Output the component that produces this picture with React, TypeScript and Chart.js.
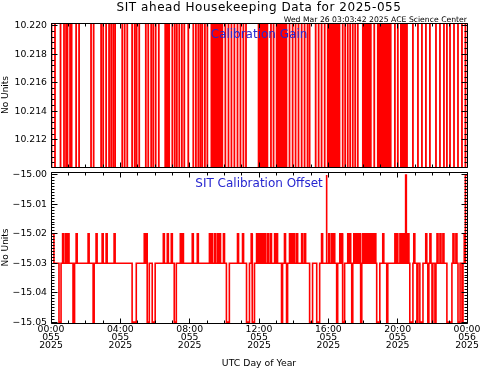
import React, { useEffect, useRef } from "react";
import { Chart, registerables } from "chart.js";

Chart.register(...registerables);

// ---------------- data ----------------
const TITLE = "SIT ahead Housekeeping Data for 2025-055";
const SUBTITLE = "Wed Mar 26 03:03:42 2025 ACE Science Center";
const GAIN_LABEL = "Calibration Gain";
const OFFSET_LABEL = "SIT Calibration Offset";
const Y_LABEL = "No Units";
const X_LABEL = "UTC Day of Year";

const HOUR_TICKS = [0, 4, 8, 12, 16, 20, 24];
const HOUR_TICK_TIME = ["00:00", "04:00", "08:00", "12:00", "16:00", "20:00", "00:00"];
const HOUR_TICK_DOY = ["055", "055", "055", "055", "055", "055", "056"];
const HOUR_TICK_YEAR = ["2025", "2025", "2025", "2025", "2025", "2025", "2025"];

const GAIN_TICKS = [10.212, 10.214, 10.216, 10.218, 10.22];
const GAIN_MIN = 10.2101;
const GAIN_MAX = 10.2202;
const GAIN_HIGH = 10.2206;
const GAIN_LOW = 10.2096;
// hours (UTC) at which the gain switches between its two values
const GAIN_TOGGLES = [
  0.03, 0.23, 0.55, 0.75, 0.87, 0.95, 1.1, 1.19, 1.45, 1.62, 2.31, 2.46, 2.89, 3.01, 3.18,
  3.35, 3.47, 3.59, 3.7, 4.11, 4.25, 4.4, 4.68, 4.83, 4.94, 5.09, 5.47, 5.61, 5.78, 5.9,
  6.04, 6.22, 7.0, 7.14, 7.26, 7.4, 7.55, 7.69, 7.92, 8.21, 8.36, 8.5, 8.62, 8.73, 8.88,
  9.02, 10.06, 10.24, 10.41, 10.58, 10.76, 10.93, 11.1, 11.25, 12.69, 12.84, 13.76, 13.94,
  14.11, 14.28, 14.46, 14.63, 14.8, 14.92, 15.27, 15.44, 15.61, 15.79, 16.83, 16.97, 17.12,
  17.26, 17.41, 17.55, 17.7, 18.65, 19.84, 20.01, 20.88, 21.17, 21.4, 21.63, 21.86, 22.21,
  22.44, 22.67, 22.84, 23.02, 23.25, 23.48, 23.71, 23.91,
];
// spans (hours) of continuous rapid switching
const GAIN_DENSE = [
  [6.53, 6.88], [9.19, 9.95], [11.91, 12.55], [12.95, 13.65], [15.9, 16.71],
  [17.93, 18.51], [18.79, 19.66], [20.13, 20.59],
];

const OFFSET_TICKS = [-15.05, -15.04, -15.03, -15.02, -15.01, -15.0];
const OFFSET_MIN = -15.0503;
const OFFSET_MAX = -14.999;
const OFFSET_BASE = -15.03;
const OFFSET_UP_LEVEL = -15.02;
const OFFSET_DOWN_LEVEL = -15.05;
const OFFSET_PEAK_LEVEL = -15.0;
const OFFSET_UP = [
  [0.0, 0.17], [0.67, 0.73], [0.84, 0.9], [0.98, 1.04], [1.45, 1.51], [2.14, 2.2], [2.6, 2.66],
  [2.95, 3.01], [3.18, 3.24], [3.64, 3.7], [5.38, 5.44], [5.49, 5.55], [6.48, 6.54], [6.71, 6.77],
  [6.94, 7.0], [7.46, 7.52], [7.58, 7.64], [8.15, 8.21], [8.44, 8.5], [9.14, 9.2], [9.25, 9.31],
  [9.43, 9.49], [9.6, 9.66], [9.72, 9.78], [9.95, 10.01], [10.76, 10.82], [11.05, 11.11],
  [11.55, 11.6], [11.86, 11.92], [11.97, 12.03], [12.09, 12.15], [12.2, 12.26], [12.32, 12.38],
  [12.49, 12.55], [12.66, 12.72], [12.9, 12.96], [13.01, 13.07], [13.47, 13.53], [13.76, 13.82],
  [13.88, 13.94], [14.0, 14.06], [14.17, 14.23], [14.46, 14.52], [14.63, 14.69], [15.61, 15.67],
  [16.02, 16.08], [16.19, 16.25], [16.31, 16.37], [16.66, 16.72], [16.77, 16.82], [17.12, 17.18],
  [17.23, 17.29], [17.47, 17.53], [17.58, 17.64], [17.7, 17.76], [17.81, 17.86], [17.99, 18.05],
  [18.1, 18.16], [18.22, 18.28], [18.33, 18.39], [18.45, 18.51], [18.56, 18.62], [18.68, 18.74],
  [19.14, 19.2], [19.84, 19.9], [19.95, 20.01], [20.13, 20.19], [20.24, 20.3], [20.36, 20.42],
  [20.59, 20.65], [20.93, 20.99], [21.62, 21.68], [21.86, 21.92], [22.27, 22.33], [22.44, 22.5],
  [22.61, 22.67], [23.19, 23.25], [23.36, 23.42], [23.84, 23.9],
];
const OFFSET_DOWN = [
  [0.46, 0.58], [1.27, 1.36], [2.43, 2.49], [4.68, 4.92], [5.55, 5.67], [5.84, 6.01],
  [7.11, 7.23], [10.12, 10.29], [11.28, 11.45], [11.62, 11.74], [13.3, 13.36], [13.59, 13.65],
  [14.92, 15.09], [15.33, 15.5], [16.48, 16.54], [16.83, 16.94], [17.35, 17.41], [17.87, 17.93],
  [18.79, 18.97], [19.37, 19.43], [20.7, 20.88], [21.11, 21.17], [21.28, 21.46], [21.74, 21.8],
  [21.98, 22.03], [22.15, 22.21], [22.84, 23.13], [23.48, 23.6], [23.71, 23.77],
];
const OFFSET_PEAK = [[15.87, 15.92], [20.46, 20.5], [23.91, 24.0]];

// ---------------- helpers ----------------
const FONT = '"DejaVu Sans", sans-serif';
const RED = "#ff0000";
const BLUE = "#2626d0";

function gainPoints() {
  const pts: { x: number; y: number }[] = [];
  let v = GAIN_LOW;
  pts.push({ x: 0, y: v });
  for (const t of GAIN_TOGGLES) {
    pts.push({ x: t, y: v });
    v = v === GAIN_LOW ? GAIN_HIGH : GAIN_LOW;
    pts.push({ x: t, y: v });
  }
  pts.push({ x: 24, y: v });
  return pts;
}

function gainDensePoints() {
  const pts: { x: number; y: number | null }[] = [];
  for (const [a, b] of GAIN_DENSE) {
    pts.push({ x: a, y: GAIN_HIGH }, { x: b, y: GAIN_HIGH }, { x: b, y: null });
  }
  return pts;
}

function offsetPoints() {
  const ev: number[][] = [
    ...OFFSET_UP.map(([a, b]) => [a, b, OFFSET_UP_LEVEL]),
    ...OFFSET_DOWN.map(([a, b]) => [a, b, OFFSET_DOWN_LEVEL]),
    ...OFFSET_PEAK.map(([a, b]) => [a, b, OFFSET_PEAK_LEVEL]),
  ].sort((p, q) => p[0] - q[0]);
  const pts: { x: number; y: number }[] = [];
  if (ev.length === 0 || ev[0][0] > 0) pts.push({ x: 0, y: OFFSET_BASE });
  for (const [a, b, lv] of ev) {
    if (a > 0) pts.push({ x: a, y: OFFSET_BASE });
    pts.push({ x: a, y: lv }, { x: b, y: lv });
    if (b < 24) pts.push({ x: b, y: OFFSET_BASE });
  }
  const last = ev[ev.length - 1];
  if (!last || last[1] < 24) pts.push({ x: 24, y: OFFSET_BASE });
  return pts;
}

const framePlugin = {
  id: "frameTicks",
  afterDatasetsDraw(chart: any, _args: any, opts: any) {
    const { ctx, chartArea: ca } = chart;
    const xs = chart.scales.x;
    const ys = chart.scales.y;
    const L = Math.floor(ca.left) + 0.5;
    const R = Math.floor(ca.right) + 0.5;
    const T = Math.floor(ca.top) + 0.5;
    const B = Math.floor(ca.bottom) + 0.5;
    ctx.save();
    ctx.strokeStyle = "#000";
    ctx.lineWidth = 1;
    ctx.beginPath();
    ctx.rect(L, T, R - L, B - T);
    for (let h = 0; h <= 24; h += opts.xMinor) {
      const px = Math.floor(xs.getPixelForValue(h)) + 0.5;
      const len = HOUR_TICKS.includes(h) ? 5 : 3;
      ctx.moveTo(px, B);
      ctx.lineTo(px, B - len);
      ctx.moveTo(px, T);
      ctx.lineTo(px, T + len);
    }
    const step = opts.yMinor;
    const n0 = Math.ceil(ys.min / step - 1e-6);
    const n1 = Math.floor(ys.max / step + 1e-6);
    for (let n = n0; n <= n1; n++) {
      const v = n * step;
      const major = (opts.yMajor as number[]).some((m) => Math.abs(m - v) < step / 10);
      const py = Math.floor(ys.getPixelForValue(v)) + 0.5;
      const len = major ? 6 : 3;
      ctx.moveTo(L, py);
      ctx.lineTo(L + len, py);
      ctx.moveTo(R, py);
      ctx.lineTo(R - len, py);
    }
    ctx.stroke();
    ctx.restore();
  },
};

function drawText(ctx: any, text: string, x: number, y: number, size: number, color: string, align: string, spacing: number) {
  ctx.save();
  ctx.font = `${size}px ${FONT}`;
  ctx.fillStyle = color;
  ctx.textAlign = align;
  ctx.textBaseline = "alphabetic";
  try { ctx.letterSpacing = `${spacing}px`; } catch (e) { /* ignore */ }
  ctx.fillText(text, x, y);
  ctx.restore();
}

const topTextPlugin = {
  id: "topText",
  afterDatasetsDraw(chart: any) {
    const { ctx, chartArea: ca } = chart;
    const cx = (ca.left + ca.right) / 2;
    drawText(ctx, TITLE, cx, 10.5, 12, "#000", "center", 0.55);
    drawText(ctx, SUBTITLE, ca.right, 22, 7.7, "#000", "right", 0);
    drawText(ctx, GAIN_LABEL, cx, 37.5, 12, BLUE, "center", 0);
  },
};

const bottomTextPlugin = {
  id: "bottomText",
  afterDatasetsDraw(chart: any) {
    const { ctx, chartArea: ca } = chart;
    const cx = (ca.left + ca.right) / 2;
    drawText(ctx, OFFSET_LABEL, cx, 18.5, 12, BLUE, "center", 0);
  },
};

const tickFont = { family: FONT, size: 9.3 };

function yAxis(min: number, max: number, ticks: number[], digits: number) {
  return {
    type: "linear",
    min,
    max,
    afterBuildTicks: (s: any) => {
      s.ticks = ticks.map((value) => ({ value }));
    },
    afterFit: (s: any) => {
      s.width = 51;
      s.paddingTop = 0;
      s.paddingBottom = 0;
    },
    grid: { display: false, drawTicks: false },
    border: { display: false },
    ticks: {
      font: tickFont,
      color: "#000",
      padding: 4,
      autoSkip: false,
      callback: (v: any) => {
        const s = Math.abs(Number(v)).toFixed(digits);
        return Number(v) < 0 ? "\u2212" + s : s;
      },
    },
    title: { display: true, text: Y_LABEL, font: { family: FONT, size: 9 }, color: "#000", padding: { top: 0, bottom: 0 } },
  };
}

export default function App() {
  const topRef = useRef<HTMLCanvasElement>(null);
  const botRef = useRef<HTMLCanvasElement>(null);

  useEffect(() => {
    const top = new Chart(topRef.current as HTMLCanvasElement, {
      type: "line",
      data: {
        datasets: [
          {
            data: gainDensePoints(),
            borderWidth: 0,
            pointRadius: 0,
            fill: "start",
            backgroundColor: RED,
            borderColor: RED,
            spanGaps: false,
            clip: 0,
          },
          {
            data: gainPoints(),
            borderColor: RED,
            borderWidth: 1.8,
            pointRadius: 0,
            fill: false,
            tension: 0,
            clip: 0,
          },
        ],
      } as any,
      options: {
        animation: false,
        responsive: false,
        devicePixelRatio: 1,
        events: [],
        layout: { padding: { left: 0, top: 23, right: 14, bottom: 3 } },
        plugins: {
          legend: { display: false },
          tooltip: { enabled: false },
          frameTicks: { xMinor: 1, yMinor: 0.0004, yMajor: GAIN_TICKS },
        } as any,
        scales: {
          x: { type: "linear", min: 0, max: 24, display: false },
          y: yAxis(GAIN_MIN, GAIN_MAX, GAIN_TICKS, 3),
        } as any,
      },
      plugins: [framePlugin, topTextPlugin],
    });

    const bot = new Chart(botRef.current as HTMLCanvasElement, {
      type: "line",
      data: {
        datasets: [
          {
            data: offsetPoints(),
            borderColor: RED,
            borderWidth: 1.6,
            pointRadius: 0,
            fill: false,
            tension: 0,
            clip: 0,
          },
        ],
      } as any,
      options: {
        animation: false,
        responsive: false,
        devicePixelRatio: 1,
        events: [],
        layout: { padding: { left: 0, top: 4, right: 14, bottom: 0 } },
        plugins: {
          legend: { display: false },
          tooltip: { enabled: false },
          frameTicks: { xMinor: 1, yMinor: 0.001, yMajor: OFFSET_TICKS },
        } as any,
        scales: {
          x: {
            type: "linear",
            min: 0,
            max: 24,
            afterBuildTicks: (s: any) => {
              s.ticks = HOUR_TICKS.map((value) => ({ value }));
            },
            afterFit: (s: any) => {
              s.height = 47;
              s.paddingLeft = 0;
              s.paddingRight = 0;
            },
            grid: { display: false, drawTicks: false },
            border: { display: false },
            ticks: {
              autoSkip: false,
              maxRotation: 0,
              minRotation: 0,
              font: { family: FONT, size: 9.3, lineHeight: 0.9 },
              color: "#000",
              padding: 2,
              callback: (v: any) => {
                const i = HOUR_TICKS.indexOf(Number(v));
                return [HOUR_TICK_TIME[i], HOUR_TICK_DOY[i], HOUR_TICK_YEAR[i]];
              },
            },
            title: { display: true, text: X_LABEL, font: { family: FONT, size: 9.3 }, color: "#000", padding: { top: 0, bottom: 1 } },
          },
          y: yAxis(OFFSET_MIN, OFFSET_MAX, OFFSET_TICKS, 2),
        } as any,
      },
      plugins: [framePlugin, bottomTextPlugin],
    });

    return () => {
      top.destroy();
      bot.destroy();
    };
  }, []);

  return (
    <div style={{ position: "absolute", left: 0, top: 0, width: 481, height: 370, background: "#fff", overflow: "hidden" }}>
      <canvas ref={topRef} width={481} height={170} style={{ position: "absolute", left: 0, top: 0 }} />
      <canvas ref={botRef} width={481} height={202} style={{ position: "absolute", left: 0, top: 168 }} />
    </div>
  );
}
